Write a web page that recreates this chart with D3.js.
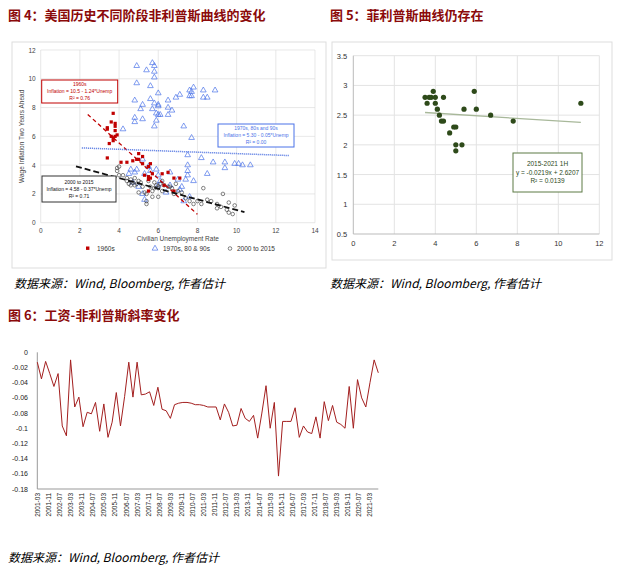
<!DOCTYPE html>
<html><head><meta charset="utf-8">
<script src="https://cdn.jsdelivr.net/npm/d3@7"></script>
<style>body{margin:0;background:#fff}svg{font-family:"Liberation Sans",Arial,sans-serif}</style>
</head><body><svg id="c" width="626" height="572"></svg>
<script>
const red60s=[[3.4,6.6],[3.4,6.5],[3.5,5.5],[3.4,4.5],[3.6,7.0],[3.6,6.0],[3.7,5.9],[3.7,7.6],[3.7,5.7],[3.8,6.9],[3.8,6.7],[3.8,6.4],[3.8,6.0],[3.9,6.1],[4.1,4.2],[4.4,4.2],[4.7,4.3],[4.9,4.4],[5.0,4.8],[5.0,4.4],[5.2,4.6],[5.2,4.1],[5.5,3.9],[5.6,4.1],[5.5,3.2],[5.5,3.0],[5.6,3.1],[5.7,3.4],[6.2,3.4],[6.5,3.5],[6.8,3.1],[7.1,3.1],[6.3,2.6],[5.5,2.2],[6.8,2.2],[5.3,3.3]];
const blue7090=[[4.9,10.9],[5.4,10.6],[5.7,11.1],[5.8,10.9],[5.8,10.5],[5.8,10.1],[4.9,9.7],[5.6,9.5],[6.0,9.0],[7.6,9.2],[7.8,9.4],[7.7,9.1],[8.3,9.2],[8.9,9.2],[4.8,8.5],[5.2,8.2],[5.1,7.9],[5.6,8.6],[5.8,8.3],[6.0,8.2],[6.0,8.1],[6.5,8.0],[6.5,8.5],[6.9,8.7],[7.1,8.9],[7.6,8.8],[7.7,8.8],[8.3,8.7],[8.5,8.7],[4.8,7.3],[4.8,7.0],[5.2,7.2],[5.7,7.9],[5.9,7.6],[5.9,7.1],[6.0,7.5],[6.1,7.5],[6.5,7.5],[6.7,7.8],[5.8,6.7],[4.2,6.5],[7.3,6.7],[7.7,5.9],[7.5,4.7],[8.2,4.5],[8.8,4.2],[9.4,4.2],[9.4,3.8],[9.9,4.1],[10.1,4.1],[10.3,4.0],[10.7,4.0],[8.5,3.4],[7.5,4.0],[7.5,3.6],[7.5,3.3],[7.4,3.0],[7.8,2.9],[7.2,2.5],[7.3,1.5],[7.6,1.8],[4.5,3.4],[4.6,3.7],[4.8,3.5],[4.9,3.7],[5.2,4.4],[5.3,3.4],[5.5,3.9],[5.6,3.6],[5.9,3.7],[6.0,3.3],[6.1,2.9],[6.4,2.1],[6.6,3.5],[6.6,2.6],[7.0,3.0],[7.1,2.3],[5.2,2.0],[5.3,1.6],[6.0,2.6],[4.7,2.8],[5.0,2.5]];
const black0015=[[3.9,3.8],[4.0,3.9],[3.9,3.6],[4.0,3.3],[4.2,3.3],[4.4,3.1],[4.4,2.9],[4.5,2.7],[4.6,3.0],[4.7,2.8],[4.8,2.6],[4.8,3.1],[4.9,2.7],[5.0,2.9],[5.0,2.1],[5.1,2.8],[5.2,2.5],[5.3,2.1],[5.4,1.5],[5.4,1.3],[5.4,2.0],[5.5,2.9],[5.6,2.5],[5.7,1.8],[5.7,2.2],[5.8,2.4],[5.9,2.6],[6.0,2.5],[6.0,1.8],[6.0,2.4],[6.1,2.7],[6.2,2.9],[6.2,2.2],[6.3,2.6],[6.5,2.5],[6.6,2.5],[6.7,2.4],[6.8,2.0],[6.9,2.7],[7.0,2.2],[7.2,2.1],[7.4,1.7],[7.6,1.5],[7.8,1.3],[8.0,1.5],[8.2,1.3],[8.3,2.4],[8.5,1.6],[8.7,1.5],[9.0,1.3],[9.0,1.0],[9.2,1.1],[9.3,2.0],[9.5,0.9],[9.6,1.4],[9.6,0.7],[9.8,0.6],[9.9,1.2],[4.6,2.6],[5.8,2.8]];
const fits4=[{a:10.5,b:-1.24,x0:2.4,x1:8.0,c:"#c00000",dash:"4,3",w:1.3},{a:5.30,b:-0.05,x0:2.1,x1:12.7,c:"#4a6fe0",dash:"1,1",w:1.5},{a:4.58,b:-0.37,x0:1.8,x1:10.4,c:"#111",dash:"6,3",w:1.8}];
const green=[[3.5,2.8],[3.6,2.7],[3.7,2.8],[3.8,2.8],[3.9,2.9],[4.0,2.8],[4.0,2.7],[4.1,2.6],[4.2,2.5],[4.3,2.4],[4.4,2.4],[4.4,2.8],[4.7,2.2],[4.9,2.3],[5.0,2.3],[5.0,2.0],[5.0,1.9],[5.3,2.0],[5.4,2.6],[5.9,2.9],[6.0,2.6],[6.7,2.5],[7.8,2.4],[11.1,2.7]];
const fit5={a:2.6207,b:-0.0219,x0:3.5,x1:11.1};
const slope=[-0.013,-0.035,-0.012,-0.028,-0.045,-0.028,-0.097,-0.11,-0.01,-0.072,-0.059,-0.098,-0.079,-0.081,-0.066,-0.104,-0.068,-0.112,-0.092,-0.053,-0.097,-0.058,-0.013,-0.059,-0.013,-0.056,-0.055,-0.052,-0.07,-0.046,-0.075,-0.077,-0.087,-0.069,-0.067,-0.066,-0.066,-0.067,-0.069,-0.069,-0.07,-0.072,-0.072,-0.072,-0.089,-0.068,-0.079,-0.097,-0.096,-0.074,-0.087,-0.091,-0.083,-0.113,-0.08,-0.044,-0.1,-0.066,-0.163,-0.091,-0.091,-0.091,-0.073,-0.112,-0.097,-0.105,-0.107,-0.085,-0.113,-0.065,-0.09,-0.07,-0.092,-0.095,-0.1,-0.045,-0.1,-0.036,-0.06,-0.072,-0.04,-0.01,-0.027];
const tickLabels6=d3.range(31).map(i=>{const m=2+i*8;return (2001+Math.floor(m/12))+"-"+String(m%12+1).padStart(2,"0");});

const svg=d3.select("#c");
const titleC="#8b0a0a";
function title(x,y,t){svg.append("text").attr("x",x).attr("y",y).attr("fill",titleC).attr("font-family","'Noto Sans CJK SC'").attr("font-weight","bold").attr("font-size",13).text(t);}
function src(x,y){svg.append("text").attr("x",x).attr("y",y).attr("font-family","'Noto Sans CJK SC','Liberation Serif'").attr("font-style","italic").attr("font-size",12).text("数据来源：Wind, Bloomberg, 作者估计");}
title(8,20,"图 4：美国历史不同阶段非利普斯曲线的变化");
title(330,20,"图 5：菲利普斯曲线仍存在");
title(8,320,"图 6：工资-非利普斯斜率变化");
src(14,288);src(330,288);src(8,562);

// ===== Chart 4 =====
svg.append("rect").attr("x",12).attr("y",42).attr("width",314).attr("height",226).attr("fill","none").attr("stroke","#ddd");
const x4=d3.scaleLinear().domain([0,14]).range([40.7,315]);
const y4=d3.scaleLinear().domain([0,12]).range([222.7,50]);
const g4=svg.append("g");
g4.selectAll(".gx").data(d3.range(0,15,2)).join("line").attr("x1",d=>x4(d)).attr("x2",d=>x4(d)).attr("y1",y4(0)).attr("y2",y4(12)).attr("stroke","#d9d9d9").attr("stroke-width",0.6);
g4.selectAll(".gy").data(d3.range(0,13,2)).join("line").attr("x1",x4(0)).attr("x2",x4(14)).attr("y1",d=>y4(d)).attr("y2",d=>y4(d)).attr("stroke","#d9d9d9").attr("stroke-width",0.6);
g4.selectAll(".tx").data(d3.range(0,15,2)).join("text").attr("x",d=>x4(d)).attr("y",y4(0)+10).attr("text-anchor","middle").attr("font-size",6.5).attr("fill","#444").text(d=>d);
g4.selectAll(".ty").data(d3.range(0,13,2)).join("text").attr("x",x4(0)-5).attr("y",d=>y4(d)+2.5).attr("text-anchor","end").attr("font-size",6.5).attr("fill","#444").text(d=>d);
g4.append("text").attr("x",x4(7)).attr("y",241).attr("text-anchor","middle").attr("font-size",6.5).attr("fill","#444").text("Civilian Unemployment Rate");
g4.append("text").attr("transform",`translate(24,${y4(6)}) rotate(-90)`).attr("text-anchor","middle").attr("font-size",6.5).attr("fill","#444").text("Wage Inflation Two Years Ahead");
const tri=d3.symbol().type(d3.symbolTriangle).size(14);
g4.selectAll(".b").data(blue7090).join("path").attr("d",tri).attr("transform",d=>`translate(${x4(d[0])},${y4(d[1])})`).attr("fill","none").attr("stroke","#4a72e8").attr("stroke-width",0.7);
g4.selectAll(".k").data(black0015).join("circle").attr("cx",d=>x4(d[0])).attr("cy",d=>y4(d[1])).attr("r",1.8).attr("fill","none").attr("stroke","#333").attr("stroke-width",0.6);
g4.selectAll(".r").data(red60s).join("rect").attr("x",d=>x4(d[0])-1.6).attr("y",d=>y4(d[1])-1.6).attr("width",3.2).attr("height",3.2).attr("fill","#c00000");
fits4.forEach(f=>g4.append("line").attr("x1",x4(f.x0)).attr("x2",x4(f.x1)).attr("y1",y4(f.a+f.b*f.x0)).attr("y2",y4(f.a+f.b*f.x1)).attr("stroke",f.c).attr("stroke-dasharray",f.dash).attr("stroke-width",f.w));
function box(g,x,y,w,h,c,lines,fs,tc){g.append("rect").attr("x",x).attr("y",y).attr("width",w).attr("height",h).attr("fill","#fff").attr("stroke",c).attr("stroke-width",1);
 lines.forEach((t,i)=>g.append("text").attr("x",x+w/2).attr("y",y+h/2+(i-(lines.length-1)/2)*(fs+2)+fs*0.35).attr("text-anchor","middle").attr("font-size",fs).attr("fill",tc||c).text(t));}
box(g4,41.7,80,76,23,"#c00000",["1960s","Inflation = 10.5 - 1.24*Unemp","R² = 0.76"],5);
box(g4,218,124,76,23,"#4a72e8",["1970s, 80s and 90s","Inflation = 5.30 - 0.05*Unemp","R² = 0.00"],5);
box(g4,42,176,74,26,"#333",["2000 to 2015","Inflation = 4.58 - 0.37*Unemp","R² = 0.71"],5,"#111");
const lg=g4.append("g").attr("font-size",6.5).attr("fill","#333");
lg.append("rect").attr("x",86).attr("y",246.5).attr("width",3.4).attr("height",3.4).attr("fill","#c00000");
lg.append("text").attr("x",97).attr("y",251).text("1960s");
lg.append("path").attr("d",tri).attr("transform","translate(155,248.5)").attr("fill","none").attr("stroke","#4a72e8").attr("stroke-width",0.7);
lg.append("text").attr("x",163).attr("y",251).text("1970s, 80 & 90s");
lg.append("circle").attr("cx",230).attr("cy",248.5).attr("r",1.8).attr("fill","none").attr("stroke","#333").attr("stroke-width",0.6);
lg.append("text").attr("x",237).attr("y",251).text("2000 to 2015");

// ===== Chart 5 =====
svg.append("rect").attr("x",332).attr("y",42).attr("width",280).attr("height",218).attr("fill","none").attr("stroke","#ddd");
const x5=d3.scaleLinear().domain([0,12]).range([353.3,599.3]);
const y5=d3.scaleLinear().domain([0.5,3.5]).range([234,55.7]);
const g5=svg.append("g");
g5.selectAll(".gx").data(d3.range(2,13,2)).join("line").attr("x1",d=>x5(d)).attr("x2",d=>x5(d)).attr("y1",y5(0.5)).attr("y2",y5(3.5)).attr("stroke","#e3e3e3");
g5.selectAll(".gy").data(d3.range(1,3.6,0.5)).join("line").attr("x1",x5(0)).attr("x2",x5(12)).attr("y1",d=>y5(d)).attr("y2",d=>y5(d)).attr("stroke","#e3e3e3");
g5.append("line").attr("x1",x5(0)).attr("x2",x5(0)).attr("y1",y5(0.5)).attr("y2",y5(3.5)).attr("stroke","#bbb");
g5.append("line").attr("x1",x5(0)).attr("x2",x5(12)).attr("y1",y5(0.5)).attr("y2",y5(0.5)).attr("stroke","#bbb");
g5.selectAll(".tx").data(d3.range(0,13,2)).join("text").attr("x",d=>x5(d)).attr("y",y5(0.5)+12).attr("text-anchor","middle").attr("font-size",7.5).attr("fill","#333").text(d=>d);
g5.selectAll(".ty").data(d3.range(0.5,3.6,0.5)).join("text").attr("x",x5(0)-6).attr("y",d=>y5(d)+3).attr("text-anchor","end").attr("font-size",7.5).attr("fill","#333").text(d=>d);
g5.append("line").attr("x1",x5(fit5.x0)).attr("x2",x5(fit5.x1)).attr("y1",y5(fit5.a+fit5.b*fit5.x0)).attr("y2",y5(fit5.a+fit5.b*fit5.x1)).attr("stroke","#a8b89a").attr("stroke-width",1.3);
g5.selectAll(".p").data(green).join("circle").attr("cx",d=>x5(d[0])).attr("cy",d=>y5(d[1])).attr("r",2.6).attr("fill","#2e4a1a");
box(g5,513,153,69,39,"#5c7a45",["2015-2021 1H","y = -0.0219x + 2.6207","R² = 0.0139"],6.5,"#2e4a1a");

// ===== Chart 6 =====
const x6=d3.scaleLinear().domain([0,slope.length-1]).range([37.3,378.3]);
const y6=d3.scaleLinear().domain([-0.18,0]).range([489,352.3]);
const g6=svg.append("g");
g6.append("line").attr("x1",x6(0)).attr("x2",x6(0)).attr("y1",y6(0)).attr("y2",y6(-0.18)).attr("stroke","#999");
g6.append("line").attr("x1",x6(0)).attr("x2",x6(slope.length-1)).attr("y1",y6(-0.18)).attr("y2",y6(-0.18)).attr("stroke","#999");
g6.selectAll(".ty").data(d3.range(0,19,2)).join("text").attr("x",28).attr("y",d=>y6(-d/100)+2.5).attr("text-anchor","end").attr("font-size",7).attr("fill","#222").text(d=>d===0?"0":"-"+(d/100).toFixed(2).replace(/^0/,"0").replace(/0+$/,m=>m.length&&d%10===0?"":m));
g6.selectAll(".tx").data(tickLabels6).join("text").attr("transform",(d,i)=>`translate(${x6(i*8/3)+2.5},${y6(-0.18)+4}) rotate(-90)`).attr("text-anchor","end").attr("font-size",6.5).attr("fill","#222").text(d=>d);
g6.append("path").datum(slope).attr("d",d3.line().x((d,i)=>x6(i)).y(d=>y6(d))).attr("fill","none").attr("stroke","#a31f1f").attr("stroke-width",1);
</script></body></html>
